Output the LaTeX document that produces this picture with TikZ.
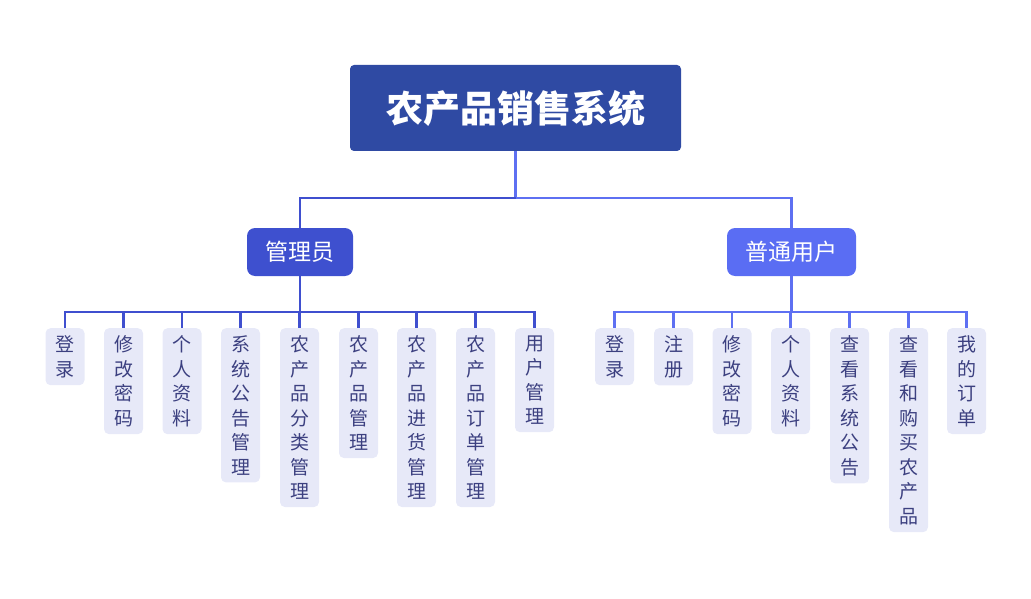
\documentclass[tikz,border=0pt]{standalone}
\usepackage{fontspec}
\newfontfamily\cjk{Noto Sans CJK SC}
\definecolor{rootblue}{HTML}{2F4AA3}
\definecolor{adminblue}{HTML}{3E50CF}
\definecolor{userblue}{HTML}{5A6DF3}
\definecolor{leafbg}{HTML}{E7E9F8}
\definecolor{leaftext}{HTML}{3C4080}
\definecolor{linedark}{HTML}{3F4FCF}
\definecolor{linelight}{HTML}{5E70F2}
\tikzset{
  rootbox/.style={fill=rootblue, rounded corners=4pt, minimum width=331pt, minimum height=86pt,
    text=white, font=\cjk\bfseries\fontsize{37}{37}\selectfont},
  rolebox/.style={rounded corners=8pt, minimum height=48pt, text=white,
    font=\cjk\fontsize{23}{23}\selectfont},
  leafbox/.style={anchor=north, fill=leafbg, rounded corners=5pt, text=leaftext,
    text width=19pt, align=center, inner xsep=10pt, inner ysep=7.5pt,
    font=\cjk\fontsize{19}{24.5}\selectfont},
  link/.style={line width=2.6pt},
}
\begin{document}
\begin{tikzpicture}[x=1pt, y=-1pt]
  \useasboundingbox (0,0) rectangle (1031,599);

  % Root
  \node[rootbox] (root) at (515.5,108) {农产品销售系统};

  % Roles
  \node[rolebox, fill=adminblue, minimum width=106pt] (admin) at (300,252) {管理员};
  \node[rolebox, fill=userblue, minimum width=129pt] (user) at (791.5,252) {普通用户};

  \coordinate (top) at (515.5,198);
  \draw[link, linelight] (root.south) -- (top) -| (user.north);
  \draw[link, linedark] (top) -| (admin.north);

  % Admin functions
  \coordinate (abar) at (300,312);
  \foreach \i/\x/\t in {1/65/{登\\录}, 2/123.5/{修\\改\\密\\码}, 3/182/{个\\人\\资\\料},
      4/240.5/{系\\统\\公\\告\\管\\理}, 5/299.5/{农\\产\\品\\分\\类\\管\\理},
      6/358.5/{农\\产\\品\\管\\理}, 7/416.5/{农\\产\\品\\进\\货\\管\\理},
      8/475.5/{农\\产\\品\\订\\单\\管\\理}, 9/534.5/{用\\户\\管\\理}} {
    \node[leafbox] (a\i) at (\x,328) {\t};
    \draw[link, linedark] (admin.south) -- (abar) -| (a\i.north);
  }

  % User functions
  \coordinate (ubar) at (791.5,312);
  \foreach \i/\x/\t in {1/614.5/{登\\录}, 2/673.5/{注\\册}, 3/732/{修\\改\\密\\码},
      4/790.5/{个\\人\\资\\料}, 5/849.5/{查\\看\\系\\统\\公\\告},
      6/908.5/{查\\看\\和\\购\\买\\农\\产\\品}, 7/966.5/{我\\的\\订\\单}} {
    \node[leafbox] (u\i) at (\x,328) {\t};
    \draw[link, linelight] (user.south) -- (ubar) -| (u\i.north);
  }
\end{tikzpicture}
\end{document}
